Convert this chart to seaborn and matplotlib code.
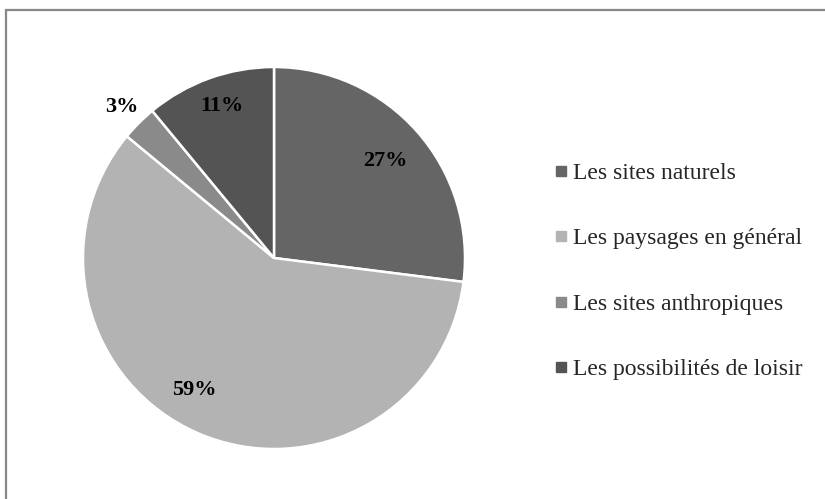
import matplotlib
matplotlib.use("Agg")
import matplotlib.pyplot as plt
from matplotlib.lines import Line2D
from matplotlib.patches import Rectangle
import numpy as np
import seaborn as sns

categories = ["Les sites naturels", "Les paysages en général",
              "Les sites anthropiques", "Les possibilités de loisir"]
shares = [27, 59, 3, 11]
colors = ["#656565", "#b3b3b3", "#8a8a8a", "#545454"]
# label placement: radial factor and angular nudge (degrees) per slice
label_radius = [0.78, 0.80, 1.13, 0.85]
label_nudge = [0, -8, 0, -1]

sns.set_theme(style="white")
plt.rcParams["font.family"] = ["Liberation Serif", "DejaVu Serif"]

W, H = 825, 499
fig = plt.figure(figsize=(W / 100, H / 100), dpi=100)
fig.patch.set_facecolor("white")

# outer frame
fig.add_artist(Rectangle((6 / W, -0.05), 1.2, (H - 10) / H + 0.05,
                         transform=fig.transFigure, fill=False,
                         edgecolor="#888888", linewidth=1.6))

cx, cy, r = 274, 258, 191
ax = fig.add_axes([(cx - r) / W, (H - cy - r) / H, 2 * r / W, 2 * r / H])
wedges, _ = ax.pie(shares, colors=colors, startangle=90, counterclock=False,
                   radius=1.0,
                   wedgeprops=dict(edgecolor="white", linewidth=1.8))
ax.set_xlim(-1, 1)
ax.set_ylim(-1, 1)
ax.set_aspect("equal")
ax.axis("off")

for w, val, rf, nd in zip(wedges, shares, label_radius, label_nudge):
    mid = np.deg2rad((w.theta1 + w.theta2) / 2 + nd)
    ax.text(rf * np.cos(mid), rf * np.sin(mid) - 0.01, f"{val}%",
            ha="center", va="center", fontsize=16, fontweight="bold",
            color="black")

handles = [Line2D([], [], marker="s", linestyle="none", markersize=7,
                  markerfacecolor=c, markeredgecolor=c) for c in colors]
fig.legend(handles, categories, loc="upper left",
           bbox_to_anchor=(545 / W, 1 - 153 / H), frameon=False,
           fontsize=17, handlelength=0.55, handletextpad=0.25,
           labelspacing=1.86, borderaxespad=0)

fig.savefig("out.png", dpi=100, facecolor="white")
